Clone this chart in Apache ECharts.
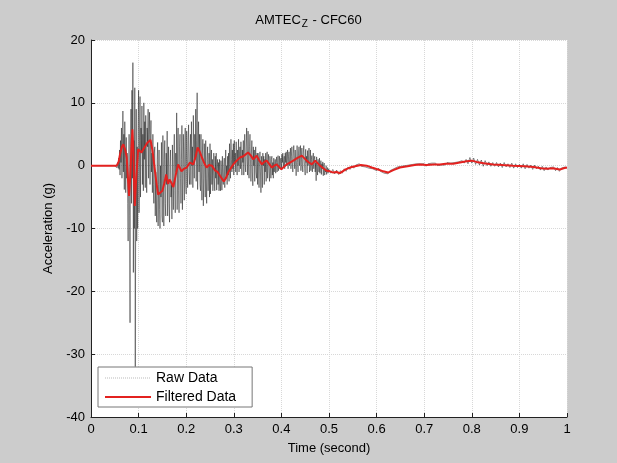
<!DOCTYPE html>
<html><head><meta charset="utf-8">
<script src="https://cdn.jsdelivr.net/npm/echarts@6/dist/echarts.min.js"></script>
<style>html,body{margin:0;padding:0;background:#cccccc;}#c{width:617px;height:463px;}</style>
</head><body><div id="c"></div>
<script>
// Tick labels
const xTicks = [0,0.1,0.2,0.3,0.4,0.5,0.6,0.7,0.8,0.9,1];
const yTicks = [-40,-30,-20,-10,0,10,20];

// Raw data: quiet lead-in
const rawLeadTimes = [0, 0.02, 0.04, 0.049];
const rawLeadValues = [0, 0, 0, 0];
// Raw data: 0.050 .. 0.499, sampled every 0.001 s
const rawAStart = 0.05, rawAStep = 0.001;
const rawAValues = [
0,0.1,-0.1,0.2,-0.3,0.1,0.5,-0.4,1.2,-0.6,
2.5,-1.5,4,0.5,6,-2,3,8.7,-1,5,
-3.8,7,1,-4.3,4.5,-2,2,-6,-12,-3,
5,-8,-25,3,9,-6,12,-2,16.4,-17,
4,-10,12.4,-32,-5,9,-12,3,-10,6,
12,-7.5,4,11,-5,6,2,9.5,-3,5,
-4,10,1,7,-3.5,8,2,-4.3,6,3,
9,-2,5,8.5,-3,4,7.2,-1,2,-4.3,
5,-3,-6,2,3,-8,-1,-5,-9,1,
3.7,-9.6,-3,2.5,-7,-10,0,-5,3.7,-8,
-9,4.8,-2,-9.6,1,4,-6,-8,2,-3,
5.5,-8,-1,3,-6,-9,0,2.5,-5,-3,
-8.5,3.3,-2,-7,1,5,-4,-7.5,2,-1,
8.4,-7,2,6,-4,-7.5,3,5,-2,-6,
1,6.4,-7,-2,5,0,-5.5,3,6,-3,
-4.5,5.5,1,-3.5,4,6.5,-1,-3,2,5,
-3,7,0,3,-3.5,8,2,-2,5,1,
9,-2.5,4,11.6,-3.8,2,7,-1,5,-3,
-4,5,-1,-5.5,2,4.2,-6.4,-2,3.5,0,
-5,4,-2,-6,1,3,-4,-1,2,-5,
3.5,-4.5,0,2.5,-3,1,-4,-1.5,2,-2,
-4,1.5,-2,2,-3.9,-0.5,1,-3,0.5,-4,
1,-2.5,-4,0.8,-1,-3.9,1.5,-2,-3,0,
1.2,-3.5,-1,2.5,-2,0,-3,1.5,-1.5,2,
-2.5,3.5,0,-2,4.2,1,-1,2.5,-0.5,3.5,
-1.5,4,0.5,2,-1,3.8,1,-1.5,2.5,0,
4.2,-1,2,3,-0.5,3.8,1,-1.5,2.5,0.5,
4,-1.5,2,5,0,-1,3,6,1,-1.5,
5.5,0,-2,3,5,1,-2.5,2,4,-1,
-3.2,3,0,2.5,-2.5,1,3,-1,-2,2,
-3,2,0.5,-3.5,1,2.2,-1,-4.3,1.5,0,
-3.5,2,0,1.5,-3,1,-1,2,-2.5,0.5,
2.2,-2,0,1.8,-1,-2.5,1.5,0,-2,1,
1.5,-1.5,0.5,-2,1.2,-1,0,1,-1.2,0.5,
1.4,-1,0.5,1.6,-0.8,0,1.5,-0.5,0.8,1.2,
-0.5,1.8,0.5,2,-0.3,1,1.5,-0.5,2,0.5,
2.2,0,1,2.5,-0.5,1.5,2.2,0,1,2.8,
-0.5,1.5,3,0.5,-1,2,3.2,1,-0.5,2.5,
2.8,-1.6,1,3.2,0.5,-1,2,3,0,1.5,
3.2,-0.8,1,2.8,0,-1,2,3.2,1,-0.5,
-1.5,2.6,0.5,1.5,-1.2,2.4,0,1,2.8,-1,
0,2.5,-0.8,1,1.6,-1,0.5,2,-0.5,1,
1.5,-1,0.5,-2.4,1.4,0,-1.5,1,0.5,-1,
1.2,-1.2,0,0.8,-1.4,0.3,-0.5,0.6,-1.6,0,
0.4,-1.5,-0.5,-1,0,-1.4,-0.8,-0.3,-1.2,-0.5
];
// Raw data: 0.504 .. 1.000, sampled every 0.004 s
const rawBStart = 0.504, rawBStep = 0.004;
const rawBValues = [
-1.2,-0.6,-1.3,-0.7,-1.4,-0.8,-1.2,-0.5,-0.9,-0.2,
-0.6,0,-0.4,0.1,-0.2,0.3,-0.1,0.2,-0.2,0.1,
-0.4,-0.1,-0.5,-0.3,-0.8,-0.4,-0.9,-0.7,-1.2,-0.9,
-1.3,-0.8,-1.0,-0.5,-0.7,-0.2,-0.5,-0.1,-0.4,0,
-0.3,0.1,-0.1,0.2,0,0.3,0.1,0.3,0,0.3,
-0.1,0.3,0,0.4,0.1,0.4,0,0.3,0.1,0.4,
0.1,0.5,0.2,0.4,0.2,0.5,0.3,0.6,0.3,0.8,
0.4,1.0,0.3,1.3,0.4,1.2,0.2,1.0,0.1,0.9,
-0.1,0.8,0,0.6,-0.1,0.5,-0.1,0.5,-0.2,0.4,
-0.3,0.5,-0.2,0.3,-0.3,0.4,-0.4,0.3,-0.3,0.2,
-0.4,0.3,-0.5,0.2,-0.4,0.1,-0.6,0.1,-0.5,-0.1,
-0.7,-0.1,-0.8,-0.2,-0.7,-0.3,-0.6,-0.2,-0.8,-0.3,
-0.9,-0.4,-0.6,-0.2,-0.4
];

// Filtered data (time, value)
const filtTimes = [
0,0.054,0.058,0.061,0.065,0.068,0.072,0.075,0.078,0.08,
0.083,0.085,0.087,0.089,0.091,0.092,0.095,0.099,0.103,0.106,
0.11,0.113,0.118,0.125,0.129,0.134,0.138,0.141,0.145,0.15,
0.154,0.158,0.162,0.165,0.168,0.173,0.178,0.183,0.187,0.19,
0.195,0.201,0.208,0.215,0.22,0.224,0.228,0.233,0.238,0.243,
0.248,0.254,0.261,0.266,0.271,0.279,0.284,0.288,0.293,0.299,
0.306,0.313,0.32,0.325,0.33,0.336,0.341,0.348,0.353,0.359,
0.364,0.369,0.375,0.38,0.385,0.39,0.395,0.4,0.405,0.411,
0.418,0.425,0.433,0.438,0.443,0.448,0.453,0.458,0.464,0.471,
0.476,0.481,0.488,0.495,0.502,0.509,0.516,0.523,0.535,0.544,
0.555,0.567,0.579,0.59,0.603,0.614,0.624,0.635,0.649,0.665,
0.68,0.691,0.705,0.72,0.733,0.745,0.761,0.775,0.789,0.8,
0.81,0.825,0.845,0.865,0.887,0.911,0.93,0.945,0.957,0.97,
0.985,0.993,1.0
];
const filtValues = [
0,0,0.6,1.8,3.0,3.4,2.5,1.3,-2.5,-4.8,
-1,3,5.8,2.5,-4,-6.4,-2,2.6,2.8,2.1,
2.6,2.9,3.6,4.1,2.5,-0.6,-3,-4.6,-4.5,-4.0,
-2.8,-1.4,-2.9,-2.2,-2.6,-3.4,-1.5,0.2,-0.4,-0.9,
-0.5,-0.3,0.5,0.2,1.5,2.9,2.3,1.3,0.4,-0.3,
0.1,0,-0.8,-1.0,-1.6,-2.5,-1.9,-1.1,-0.5,0.2,
0.8,1.3,1.5,1.8,2.1,1.6,1.0,1.6,0.9,0.2,
0.6,0.8,0.2,-0.3,0,0.2,-0.2,-0.6,-0.2,0.2,
0.5,0.8,1.2,1.4,1.6,1.2,0.8,0.5,0.2,0.8,
0.4,0,-0.4,-0.8,-0.9,-1.1,-1.0,-1.2,-0.6,-0.3,
-0.1,0.1,0,-0.3,-0.6,-0.9,-1.1,-0.7,-0.3,-0.1,
0.1,0.2,0.1,0.2,0.2,0.3,0.3,0.5,0.7,0.8,
0.6,0.4,0.2,0.1,0,-0.1,-0.2,-0.4,-0.5,-0.4,
-0.6,-0.4,-0.3
];

const rawData = [];
rawLeadTimes.forEach((t,i)=>rawData.push([t, rawLeadValues[i]]));
rawAValues.forEach((v,i)=>rawData.push([+(rawAStart + i*rawAStep).toFixed(4), v]));
rawBValues.forEach((v,i)=>rawData.push([+(rawBStart + i*rawBStep).toFixed(4), v]));
const filtData = filtTimes.map((t,i)=>[t, filtValues[i]]);

const font = 'Liberation Sans, Arial, Helvetica, sans-serif';
const chart = echarts.init(document.getElementById('c'), null, {renderer:'canvas'});
chart.setOption({
  backgroundColor: '#cccccc',
  animation: false,
  title: {
    text: '{a|AMTEC}{s|Z}{a| - CFC60}',
    left: 'center', top: 7,
    textStyle: { fontWeight: 'normal', rich: {
      a: { fontFamily: font, fontSize: 13, fontWeight: 'normal', color: '#000', lineHeight: 16 },
      s: { fontFamily: font, fontSize: 10, fontWeight: 'normal', color: '#000', padding: [9,1,0,1], lineHeight: 16 }
    } }
  },
  grid: { left: 91, right: 50, top: 40, bottom: 46, show: true, backgroundColor: '#ffffff', borderWidth: 0 },
  legend: {
    orient: 'vertical', left: 98, top: 367,
    backgroundColor: '#ffffff', borderColor: '#777', borderWidth: 1,
    padding: [4, 16, 3, 6], itemGap: 5, itemWidth: 46, itemHeight: 12,
    textStyle: { fontFamily: font, fontSize: 14, color: '#000' },
    data: [
      { name: 'Raw Data', lineStyle: { color: '#aaaaaa', width: 1, type: 'dotted' }, itemStyle: { opacity: 0 } },
      { name: 'Filtered Data', lineStyle: { color: '#e3211f', width: 2 }, itemStyle: { opacity: 0 } }
    ]
  },
  xAxis: {
    type: 'value', min: 0, max: 1, interval: 0.1,
    name: 'Time (second)', nameLocation: 'middle', nameGap: 25,
    nameTextStyle: { fontFamily: font, fontSize: 13, color: '#000' },
    axisLine: { show: true, onZero: false, lineStyle: { color: '#222', width: 1 } },
    axisTick: { show: true, inside: true, length: 4, lineStyle: { color: '#222' } },
    axisLabel: { fontFamily: font, fontSize: 13, color: '#000', margin: 6,
      formatter: v => { const k = xTicks.find(t => Math.abs(t - v) < 1e-9); return k === undefined ? '' : String(k); } },
    splitLine: { show: true, lineStyle: { color: '#d8d8d8', type: 'dotted', width: 1 } }
  },
  yAxis: {
    type: 'value', min: -40, max: 20, interval: 10,
    name: 'Acceleration (g)', nameLocation: 'middle', nameGap: 28, nameRotate: 90,
    nameTextStyle: { fontFamily: font, fontSize: 13, color: '#000' },
    axisLine: { show: true, onZero: false, lineStyle: { color: '#222', width: 1 } },
    axisTick: { show: true, inside: true, length: 4, lineStyle: { color: '#222' } },
    axisLabel: { fontFamily: font, fontSize: 13, color: '#000', margin: 6,
      formatter: v => { const k = yTicks.find(t => t === v); return k === undefined ? '' : String(k); } },
    splitLine: { show: true, lineStyle: { color: '#d8d8d8', type: 'dotted', width: 1 } }
  },
  series: [
    { name: 'Raw Data', type: 'line', data: rawData, symbol: 'none', z: 2,
      lineStyle: { color: '#111111', width: 0.6, opacity: 0.8 }, itemStyle: { color: '#aaaaaa' } },
    { name: 'Filtered Data', type: 'line', data: filtData, symbol: 'none', z: 3,
      lineStyle: { color: '#e3211f', width: 2 }, itemStyle: { color: '#e3211f' } }
  ]
});
</script></body></html>
